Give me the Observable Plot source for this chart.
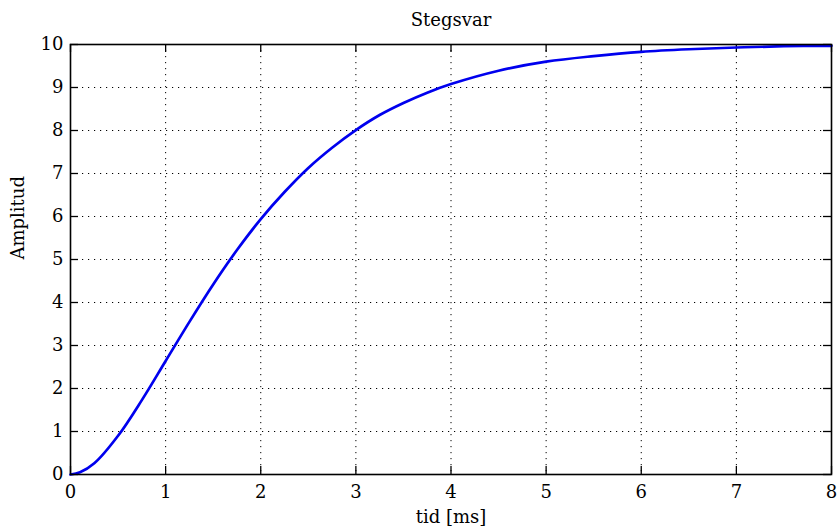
<!DOCTYPE html>
<html>
<head>
<meta charset="utf-8">
<script src="https://cdn.jsdelivr.net/npm/d3@7"></script>
<script src="https://cdn.jsdelivr.net/npm/@observablehq/plot@0.6"></script>
<style>
  html, body { margin: 0; padding: 0; background: #fff; }
</style>
</head>
<body>
<div id="chart"></div>
<script>
const title = "Stegsvar";
const xLabel = "tid [ms]";
const yLabel = "Amplitud";
const xTicks = [0, 1, 2, 3, 4, 5, 6, 7, 8];
const yTicks = [0, 1, 2, 3, 4, 5, 6, 7, 8, 9, 10];
const time = [0, 0.1, 0.25, 0.5, 0.75, 1, 1.25, 1.5, 1.75, 2, 2.25, 2.5, 2.75, 3, 3.25, 3.5, 3.75, 4, 4.5, 5, 5.5, 6, 6.5, 7, 7.5, 8];
const amplitude = [0, 0.05, 0.26, 0.9, 1.73, 2.64, 3.55, 4.42, 5.22, 5.94, 6.57, 7.13, 7.6, 8.01, 8.36, 8.64, 8.88, 9.08, 9.39, 9.6, 9.73, 9.83, 9.89, 9.93, 9.96, 9.97];

const data = time.map((t, i) => ({t, y: amplitude[i]}));

const W = 839, H = 532;
const mT = 44, mB = 58, mL = 70, mR = 8;
const innerH = H - mT - mB;
const innerW = W - mL - mR;
const tickLen = 8;
const FS = 18;
const FF = "DejaVu Serif";

const chart = Plot.plot({
  width: W,
  height: H,
  marginTop: mT,
  marginBottom: mB,
  marginLeft: mL,
  marginRight: mR,
  style: {fontFamily: "'DejaVu Serif', 'Liberation Serif', serif", fontSize: FS + "px", color: "black", background: "white"},
  x: {domain: [0, 8], ticks: xTicks},
  y: {domain: [0, 10], ticks: yTicks},
  marks: [
    Plot.gridX(xTicks.slice(1, -1), {stroke: "black", strokeOpacity: 1, strokeWidth: 1, strokeDasharray: "1.2,4.8"}),
    Plot.gridY(yTicks.slice(1, -1), {stroke: "black", strokeOpacity: 1, strokeWidth: 1, strokeDasharray: "1.2,4.8"}),
    // inward ticks
    Plot.tickX(xTicks, {x: d => d, insetTop: innerH - tickLen, stroke: "black", strokeWidth: 1.3}),
    Plot.tickX(xTicks, {x: d => d, insetBottom: innerH - tickLen, stroke: "black", strokeWidth: 1.3}),
    Plot.tickY(yTicks, {y: d => d, insetRight: innerW - tickLen, stroke: "black", strokeWidth: 1.3}),
    Plot.tickY(yTicks, {y: d => d, insetLeft: innerW - tickLen, stroke: "black", strokeWidth: 1.3}),
    Plot.axisX(xTicks, {tickSize: 0, tickPadding: 11, label: null, fontSize: FS, fontFamily: FF}),
    Plot.axisY(yTicks, {tickSize: 0, tickPadding: 7, label: null, fontSize: FS, fontFamily: FF}),
    Plot.line(data, {x: "t", y: "y", stroke: "#0000ee", strokeWidth: 2.7, curve: "catmull-rom"}),
    Plot.frame({stroke: "black", strokeWidth: 1.6}),
    Plot.text([title], {text: d => d, frameAnchor: "top", dy: -24, lineAnchor: "middle", fontSize: FS, fontFamily: FF}),
    Plot.text([xLabel], {text: d => d, frameAnchor: "bottom", dy: 43, lineAnchor: "middle", fontSize: FS, fontFamily: FF}),
    Plot.text([yLabel], {text: d => d, frameAnchor: "left", dx: -52, rotate: -90, lineAnchor: "middle", fontSize: FS, fontFamily: FF})
  ]
});
document.getElementById("chart").appendChild(chart);
</script>
</body>
</html>
